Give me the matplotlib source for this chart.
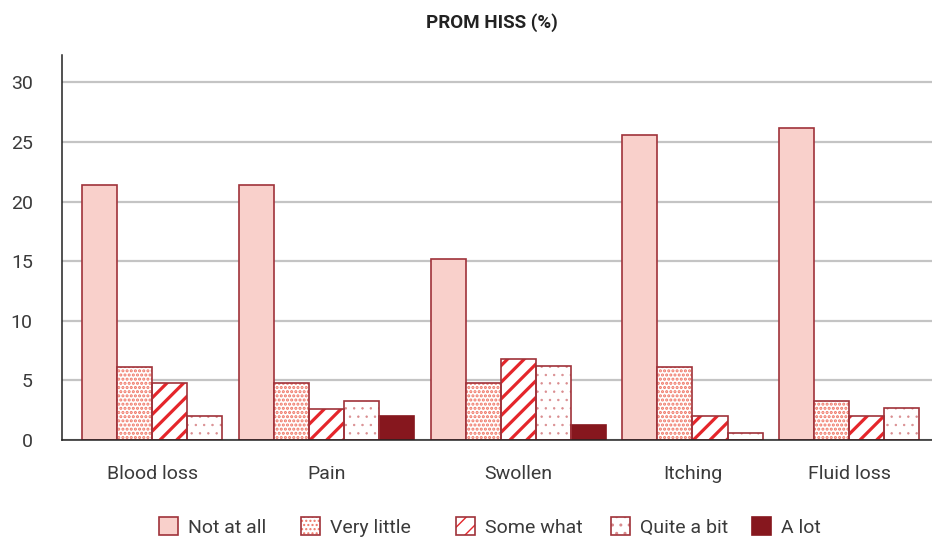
import matplotlib as mpl
import matplotlib.pyplot as plt
from matplotlib.legend_handler import HandlerTuple

plt.rcParams['font.family'] = ['Roboto', 'DejaVu Sans']

categories = ['Blood loss', 'Pain', 'Swollen', 'Itching', 'Fluid loss']
responses = ['Not at all', 'Very little', 'Some what', 'Quite a bit', 'A lot']
not_at_all = [21.4, 21.4, 15.2, 25.6, 26.2]
very_little = [6.1, 4.8, 4.8, 6.1, 3.3]
some_what = [4.8, 2.6, 6.8, 2.0, 2.0]
quite_a_bit = [2.0, 3.3, 6.2, 0.6, 2.7]
a_lot = [0.0, 2.0, 1.3, 0.0, 0.0]
y_ticks = [0, 5, 10, 15, 20, 25, 30]

series = [not_at_all, very_little, some_what, quite_a_bit, a_lot]

# fill colour, hatch, hatch colour, hatch linewidth
styles = [
    ('#f9d0cb', None, None, 0),
    ('white', '....', '#ef7565', 1.5),
    ('white', '//', '#e5262b', 2.3),
    ('white', '..', '#d98b8e', 0.5),
    ('#86171e', None, None, 0),
]
edge = '#a0323a'
text_color = '#3a3a3a'

W, H = 932, 537
fig = plt.figure(figsize=(W / 100, H / 100), dpi=100)
ax = fig.add_axes([0.0665, 0.1806, 0.9335, 0.717])

# lay bars out group by group, leaving out empty responses
w, gap, left, right = 1.0, 0.47, 0.57, 0.36
xs = [[] for _ in series]
hs = [[] for _ in series]
centers = []
x = left
for i in range(len(categories)):
    start = x
    for j, s in enumerate(series):
        if s[i] > 0:
            xs[j].append(x + w / 2)
            hs[j].append(s[i])
            x += w
    centers.append((start + x) / 2)
    x += gap
x_end = x - gap + right

handles = []
for j, (face, hatch, hcolor, hlw) in enumerate(styles):
    if hatch:
        with mpl.rc_context({'hatch.color': hcolor, 'hatch.linewidth': hlw}):
            fill = ax.bar(xs[j], hs[j], width=w, color=face, hatch=hatch,
                          edgecolor=hcolor, linewidth=0, zorder=3)
        for p in fill:
            if hasattr(p, 'set_hatch_linewidth'):
                p.set_hatch_linewidth(hlw)
        outline = ax.bar(xs[j], hs[j], width=w, fill=False, edgecolor=edge,
                         linewidth=1.2, zorder=4)
        handles.append((fill[0], outline[0]))
    else:
        ec = face if j == 4 else edge
        bars = ax.bar(xs[j], hs[j], width=w, color=face, edgecolor=ec,
                      linewidth=1.2, zorder=3)
        handles.append(bars[0])

ax.set_xlim(0, x_end)
ax.set_ylim(0, 32.3)
ax.set_yticks(y_ticks)
ax.set_xticks(centers)
ax.set_xticklabels(categories)
ax.tick_params(axis='both', length=0, labelsize=14, colors=text_color)
ax.tick_params(axis='x', pad=18)
ax.tick_params(axis='y', pad=21)

ax.grid(axis='y', color='#c4c4c4', linewidth=1.6, zorder=0)
ax.set_axisbelow(True)
for side in ['top', 'right']:
    ax.spines[side].set_visible(False)
for side in ['left', 'bottom']:
    ax.spines[side].set_color('#222222')
    ax.spines[side].set_linewidth(1.1)
    ax.spines[side].set_zorder(5)

fig.text(0.528, 0.958, 'PROM HISS (%)', ha='center', va='center',
         fontsize=13.5, fontweight='bold', color='#222222')

# one small legend per entry so each sits at its own spot along the bottom
legend_px = [159, 301, 456, 611, 752]
for h, label, px in zip(handles, responses, legend_px):
    leg = fig.legend([h], [label], loc='center left',
                     bbox_to_anchor=(px / W, 1 - 527 / H), frameon=False,
                     fontsize=14, borderpad=0, borderaxespad=0,
                     handlelength=1.0, handleheight=1.0, handletextpad=0.5,
                     handler_map={tuple: HandlerTuple(ndivide=1, pad=0)})
    for t in leg.get_texts():
        t.set_color(text_color)

fig.savefig('out.png', dpi=100)
